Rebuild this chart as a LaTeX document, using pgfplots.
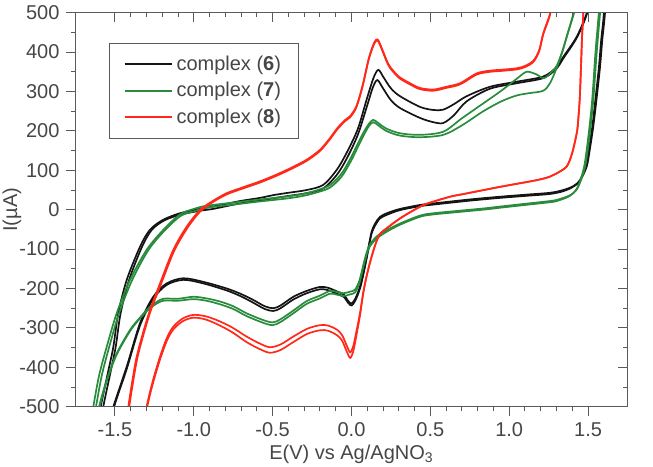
\documentclass[border=0pt]{standalone}
\usepackage{pgfplots}
\pgfplotsset{compat=1.18}
\usepackage{fontspec}
\setmainfont{Liberation Sans}
\definecolor{cvblack}{RGB}{20,20,20}
\definecolor{cvgreen}{RGB}{40,140,60}
\definecolor{cvred}{RGB}{255,40,25}
\definecolor{txtgray}{RGB}{70,70,70}
\definecolor{axgray}{RGB}{90,90,90}
\begin{document}
\begin{tikzpicture}
\pgfplotsset{
  cvbase/.style={
    width=276pt, height=197pt, scale only axis,
    xmin=-1.75, xmax=1.75, ymin=-500, ymax=500,
    xtick={-1.5,-1,-0.5,0,0.5,1,1.5},
    ytick={-500,-400,-300,-200,-100,0,100,200,300,400,500},
    minor x tick num=4, minor y tick num=1,
    major tick length=4.5pt, minor tick length=2.35pt,
    axis line style={draw=axgray, line width=0.6pt},
    every tick/.style={draw=axgray, line width=0.5pt},
    font=\fontsize{10}{12}\selectfont,
  }
}
\begin{axis}[cvbase, name=main,
  xtick pos=left, ytick pos=left, tick align=outside,
  ticklabel style={/pgf/number format/assume math mode=true, text=txtgray, font=\fontsize{10}{12}\selectfont},
  xticklabel style={/pgf/number format/.cd, fixed, fixed zerofill, precision=1},
  yticklabel style={/pgf/number format/.cd, fixed, precision=0},
  xlabel={E(V) vs Ag/AgNO\textsubscript{3}},
  ylabel={I(µA)},
  xlabel style={at={(rel axis cs:0.5,0)}, anchor=center, yshift=-24pt, text=txtgray},
  ylabel style={at={(rel axis cs:0,0.5)}, anchor=center, yshift=31.75pt, text=txtgray},
  legend cell align=left,
  legend style={at={(rel axis cs:0.0607,0.923)}, anchor=north west,
    draw=axgray, line width=0.5pt, inner xsep=7pt, inner ysep=4pt,
    row sep=0.5pt, text=txtgray, font=\fontsize{10}{12}\selectfont},
  legend image code/.code={\draw[#1, line width=1pt] (0pt,0pt) -- (23.5pt,0pt);},
  every axis plot/.append style={line width=0.85pt, smooth, tension=0.5},
]
% ---------------- complex 6 (black), cycle 1
\addplot[cvblack] coordinates {
(-1.625,-580) (-1.590,-500) (-1.548,-420) (-1.510,-348) (-1.479,-263) (-1.425,-178)
(-1.341,-94) (-1.278,-51) (-1.196,-26) (-1.088,-9) (-0.95,3) (-0.878,8) (-0.707,22)
(-0.58,30) (-0.496,37) (-0.40,43) (-0.284,50) (-0.179,63) (-0.094,101) (-0.03,145)
(0.04,205) (0.10,285) (0.140,335) (0.170,355) (0.20,338) (0.25,308) (0.308,288)
(0.434,261) (0.52,253) (0.582,254) (0.65,268) (0.730,288) (0.878,312) (1.048,325)
(1.216,338) (1.30,362) (1.343,388) (1.428,439) (1.491,498) (1.53,560) (1.62,600)
(1.607,498) (1.590,430) (1.576,363) (1.555,285) (1.533,211) (1.510,150) (1.491,109)
(1.45,75) (1.407,60) (1.343,50) (1.259,43) (1.10,38) (0.942,33) (0.75,26) (0.519,16)
(0.434,12) (0.308,2) (0.23,-8) (0.181,-18) (0.150,-35) (0.128,-55) (0.110,-90)
(0.096,-119) (0.075,-160) (0.054,-195) (0.025,-225) (0.001,-238) (-0.02,-232)
(-0.05,-215) (-0.094,-207) (-0.15,-198) (-0.2,-196) (-0.284,-206) (-0.369,-221)
(-0.45,-243) (-0.496,-250) (-0.55,-245) (-0.623,-229) (-0.70,-214) (-0.791,-200)
(-0.940,-183) (-1.066,-174) (-1.172,-187) (-1.257,-221) (-1.341,-288) (-1.425,-398)
(-1.510,-500) (-1.55,-560)
};
\addlegendentry{complex (\textbf{6})}
% complex 6, cycle 2
\addplot[cvblack, forget plot] coordinates {
(-1.610,-580) (-1.574,-500) (-1.532,-420) (-1.495,-348) (-1.464,-263) (-1.41,-178)
(-1.328,-94) (-1.266,-51) (-1.186,-27) (-1.08,-12) (-0.95,-2) (-0.878,2) (-0.707,16)
(-0.58,23) (-0.496,29) (-0.40,35) (-0.284,42) (-0.179,54) (-0.094,88) (-0.03,130)
(0.04,190) (0.10,265) (0.135,310) (0.164,329) (0.20,308) (0.25,278) (0.308,258)
(0.434,233) (0.52,222) (0.582,220) (0.65,240) (0.730,275) (0.878,307) (1.048,321)
(1.216,334) (1.30,358) (1.343,384) (1.428,436) (1.491,495) (1.53,560) (1.61,600)
(1.600,498) (1.583,430) (1.569,363) (1.548,285) (1.527,211) (1.504,150) (1.485,109)
(1.445,72) (1.40,57) (1.343,47) (1.259,40) (1.10,35) (0.942,30) (0.75,23) (0.519,13)
(0.434,9) (0.308,-1) (0.23,-12) (0.181,-22) (0.150,-40) (0.128,-60) (0.110,-95)
(0.096,-124) (0.075,-165) (0.054,-200) (0.025,-230) (0.001,-243) (-0.02,-237)
(-0.05,-221) (-0.094,-213) (-0.15,-204) (-0.2,-202) (-0.284,-212) (-0.369,-228)
(-0.45,-250) (-0.496,-257) (-0.55,-252) (-0.623,-236) (-0.70,-220) (-0.791,-205)
(-0.940,-187) (-1.066,-178) (-1.172,-191) (-1.257,-226) (-1.341,-294) (-1.425,-404)
(-1.505,-500) (-1.55,-580)
};
% ---------------- complex 7 (green), cycle 1
\addplot[cvgreen] coordinates {
(-1.67,-580) (-1.637,-500) (-1.600,-420) (-1.552,-348) (-1.489,-263) (-1.404,-178)
(-1.299,-102) (-1.193,-51) (-1.088,-12) (-1.0,2) (-0.918,10) (-0.707,20) (-0.58,26)
(-0.40,34) (-0.284,42) (-0.157,58) (-0.10,75) (-0.052,98) (0.0,135) (0.033,162)
(0.075,195) (0.11,218) (0.138,228) (0.17,220) (0.22,206) (0.308,194) (0.434,190)
(0.582,198) (0.70,232) (0.836,270) (0.95,302) (1.05,333) (1.11,350) (1.17,344)
(1.22,334) (1.27,350) (1.301,365) (1.335,400) (1.365,440) (1.407,498) (1.44,560)
(1.60,600) (1.576,498) (1.555,400) (1.533,278) (1.510,190) (1.481,109) (1.44,60)
(1.407,42) (1.365,33) (1.301,25) (1.259,22) (1.10,15) (0.942,8) (0.857,4) (0.70,-2)
(0.519,-9) (0.434,-15) (0.308,-35) (0.223,-52) (0.160,-68) (0.117,-88) (0.095,-110)
(0.075,-140) (0.05,-180) (0.022,-203) (-0.01,-208) (-0.052,-212) (-0.10,-208)
(-0.136,-206) (-0.2,-218) (-0.284,-232) (-0.369,-256) (-0.45,-278) (-0.50,-286)
(-0.56,-280) (-0.665,-263) (-0.75,-245) (-0.834,-233) (-0.92,-225) (-1.003,-221)
(-1.10,-226) (-1.193,-226) (-1.25,-238) (-1.299,-255) (-1.350,-278) (-1.404,-305)
(-1.489,-365) (-1.552,-432) (-1.605,-508) (-1.63,-580)
};
\addlegendentry{complex (\textbf{7})}
% complex 7, cycle 2
\addplot[cvgreen, forget plot] coordinates {
(-1.655,-580) (-1.620,-500) (-1.583,-420) (-1.536,-348) (-1.474,-263) (-1.390,-178)
(-1.287,-102) (-1.183,-52) (-1.080,-15) (-0.99,-3) (-0.918,5) (-0.707,15) (-0.58,21)
(-0.40,29) (-0.284,37) (-0.157,52) (-0.10,68) (-0.052,90) (0.0,126) (0.033,153)
(0.075,187) (0.11,212) (0.138,222) (0.17,214) (0.22,200) (0.308,188) (0.434,184)
(0.582,190) (0.70,214) (0.836,250) (0.95,275) (1.048,290) (1.13,296) (1.216,302)
(1.26,322) (1.301,360) (1.335,398) (1.365,439) (1.41,498) (1.45,560) (1.59,600)
(1.568,498) (1.547,400) (1.526,278) (1.503,190) (1.475,109) (1.435,58) (1.40,40)
(1.365,31) (1.301,22) (1.259,19) (1.10,12) (0.942,5) (0.857,1) (0.70,-5) (0.519,-12)
(0.434,-18) (0.308,-38) (0.223,-56) (0.160,-73) (0.117,-93) (0.095,-115) (0.075,-146)
(0.05,-186) (0.022,-210) (-0.01,-215) (-0.052,-219) (-0.10,-215) (-0.136,-213)
(-0.2,-225) (-0.284,-239) (-0.369,-263) (-0.45,-285) (-0.50,-293) (-0.56,-287)
(-0.665,-270) (-0.75,-252) (-0.834,-240) (-0.92,-231) (-1.003,-227) (-1.10,-231)
(-1.193,-231) (-1.25,-242) (-1.299,-258) (-1.350,-280) (-1.404,-308) (-1.489,-368)
(-1.552,-435) (-1.600,-508) (-1.62,-580)
};
% ---------------- complex 8 (red), cycle 1
\addplot[cvred] coordinates {
(-1.44,-580) (-1.415,-500) (-1.390,-435) (-1.362,-373) (-1.320,-310) (-1.278,-255)
(-1.214,-187) (-1.130,-102) (-1.045,-43) (-0.961,-1) (-0.88,22) (-0.791,42) (-0.68,58)
(-0.580,72) (-0.47,90) (-0.369,109) (-0.28,128) (-0.2,152) (-0.14,180) (-0.09,207)
(-0.04,228) (-0.01,237) (0.03,262) (0.07,315) (0.11,385) (0.145,425) (0.166,432)
(0.19,412) (0.22,382) (0.244,363) (0.30,338) (0.371,321) (0.434,309) (0.519,305)
(0.60,312) (0.688,321) (0.794,346) (0.878,353) (0.942,355) (1.048,359) (1.10,365)
(1.153,378) (1.19,405) (1.216,448) (1.259,498) (1.29,560) (1.50,600) (1.475,560)
(1.470,498) (1.462,440) (1.455,360) (1.447,280) (1.436,220) (1.428,194) (1.40,145)
(1.365,110) (1.30,92) (1.259,84) (1.174,75) (0.942,58) (0.70,39) (0.625,33)
(0.477,15) (0.40,0) (0.308,-22) (0.23,-45) (0.18,-62) (0.15,-90) (0.12,-130)
(0.095,-170) (0.075,-210) (0.054,-262) (0.033,-305) (0.012,-345) (-0.008,-362)
(-0.03,-345) (-0.06,-318) (-0.094,-304) (-0.15,-294) (-0.2,-293) (-0.28,-302)
(-0.369,-322) (-0.45,-342) (-0.517,-349) (-0.58,-340) (-0.665,-322) (-0.76,-298)
(-0.855,-280) (-0.93,-270) (-1.003,-267) (-1.07,-276) (-1.130,-297) (-1.17,-325)
(-1.214,-373) (-1.26,-435) (-1.299,-500) (-1.32,-560)
};
\addlegendentry{complex (\textbf{8})}
% complex 8, cycle 2
\addplot[cvred, forget plot] coordinates {
(-1.434,-580) (-1.409,-500) (-1.384,-435) (-1.356,-373) (-1.314,-310) (-1.272,-255)
(-1.208,-189) (-1.125,-105) (-1.040,-46) (-0.958,-4) (-0.88,19) (-0.791,39) (-0.68,55)
(-0.580,69) (-0.47,87) (-0.369,106) (-0.28,125) (-0.2,149) (-0.14,177) (-0.09,204)
(-0.04,225) (-0.01,234) (0.03,259) (0.07,312) (0.11,382) (0.145,422) (0.166,429)
(0.19,409) (0.22,379) (0.244,360) (0.30,335) (0.371,318) (0.434,306) (0.519,302)
(0.60,309) (0.688,318) (0.794,343) (0.878,350) (0.942,352) (1.048,356) (1.10,362)
(1.153,375) (1.19,402) (1.216,445) (1.259,495) (1.29,560) (1.50,600) (1.475,560)
(1.470,498) (1.462,440) (1.455,360) (1.447,280) (1.436,220) (1.428,194) (1.40,145)
(1.365,110) (1.30,92) (1.259,84) (1.174,75) (0.942,58) (0.70,39) (0.625,33)
(0.477,15) (0.40,0) (0.308,-22) (0.23,-45) (0.18,-62) (0.15,-90) (0.12,-130)
(0.095,-170) (0.075,-210) (0.054,-268) (0.033,-315) (0.012,-358) (-0.008,-376)
(-0.03,-360) (-0.06,-332) (-0.094,-318) (-0.15,-307) (-0.2,-306) (-0.28,-315)
(-0.369,-336) (-0.45,-356) (-0.517,-363) (-0.58,-354) (-0.665,-336) (-0.76,-310)
(-0.855,-290) (-0.93,-278) (-1.003,-274) (-1.07,-283) (-1.130,-304) (-1.17,-332)
(-1.214,-380) (-1.26,-442) (-1.295,-500) (-1.32,-560)
};
\end{axis}
% mirrored inward ticks on top and right
\begin{axis}[cvbase,
  xtick pos=right, ytick pos=right, tick align=inside,
  xticklabels={}, yticklabels={},
]
\end{axis}
\pgfresetboundingbox
\path ([shift={(-37.75pt,-29.65pt)}]main.south west) rectangle ([shift={(12.75pt,6.35pt)}]main.north east);
\end{tikzpicture}
\end{document}
